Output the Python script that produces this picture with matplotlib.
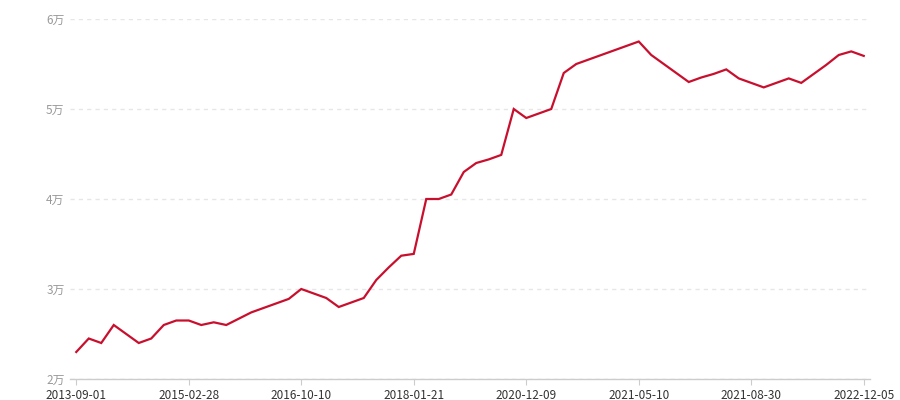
import matplotlib
matplotlib.use("Agg")
import matplotlib.pyplot as plt
from matplotlib.ticker import FuncFormatter

plt.rcParams['font.family'] = ['Noto Sans CJK SC', 'DejaVu Sans']

# values (one point per period, category axis)
values = [23000, 24500, 24000, 26000, 25000, 24000, 24500, 26000, 26500, 26500,
          26000, 26300, 26000, 26700, 27400, 27900, 28400, 28900, 30000, 29500,
          29000, 28000, 28500, 29000, 31000, 32400, 33700, 33900, 40000, 40000,
          40500, 43000, 44000, 44400, 44900, 50000, 49000, 49500, 50000, 54000,
          55000, 55500, 56000, 56500, 57000, 57500, 56000, 55000, 54000, 53000,
          53500, 53900, 54400, 53400, 52900, 52400, 52900, 53400, 52900, 53900,
          54900, 56000, 56400, 55900]

tick_pos = [0, 9, 18, 27, 36, 45, 54, 63]
tick_labels = ['2013-09-01', '2015-02-28', '2016-10-10', '2018-01-21',
               '2020-12-09', '2021-05-10', '2021-08-30', '2022-12-05']
y_ticks = [20000, 30000, 40000, 50000, 60000]

fig = plt.figure(figsize=(9, 4), dpi=100)
ax = fig.add_axes([70/900, 1-379/400, 800/900, 360/400])

ax.plot(range(len(values)), values, color='#c8102e', lw=1.6, solid_joinstyle='miter')

ax.set_xlim(-0.5, len(values) - 0.5)
ax.set_ylim(20000, 60000)
ax.set_xticks(tick_pos)
ax.set_xticklabels(tick_labels)
ax.set_yticks(y_ticks)
ax.yaxis.set_major_formatter(FuncFormatter(lambda v, p: f'{int(v/10000)}万'))

ax.grid(axis='y', color='#e6e6e6', linestyle=(0, (3, 3)), lw=1)
ax.set_axisbelow(True)
for s in ['top', 'right', 'left']:
    ax.spines[s].set_visible(False)
ax.spines['bottom'].set_color('#cccccc')
ax.spines['bottom'].set_linewidth(1)

ax.tick_params(axis='x', colors='#cccccc', length=4, labelcolor='#333333', labelsize=8.5, pad=3)
ax.tick_params(axis='y', length=0, labelcolor='#999999', labelsize=8.5, pad=4)

fig.savefig('out.png', dpi=100)
